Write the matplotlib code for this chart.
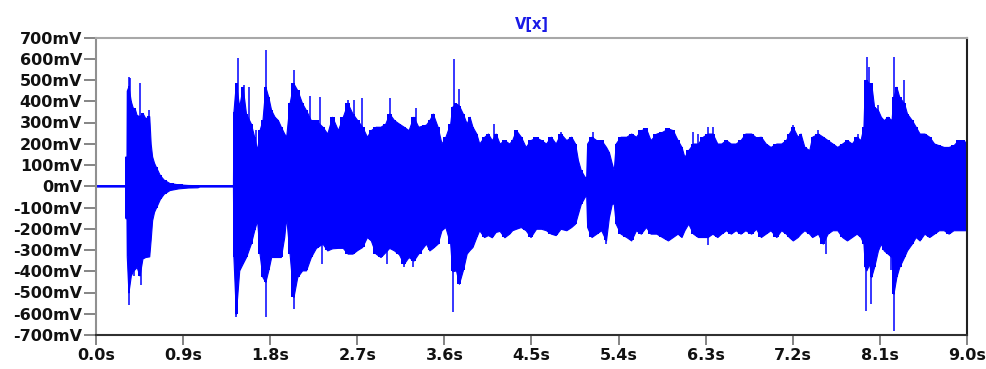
import matplotlib
matplotlib.use("Agg")
import matplotlib.pyplot as plt
from matplotlib.ticker import FixedLocator, FixedFormatter

# Envelope of V(x): time (s), upper and lower peak (mV)
t_s = [0.0, 0.300, 0.303, 0.315, 0.318, 0.335, 0.36, 0.38, 0.40, 0.42, 0.45, 0.48,
       0.51, 0.55, 0.565, 0.58, 0.60, 0.62, 0.66, 0.70, 0.76, 0.85, 0.95, 1.05, 1.07,
       1.415, 1.42, 1.445, 1.48, 1.515, 1.55, 1.60, 1.635, 1.665, 1.69, 1.72, 1.75,
       1.78, 1.81, 1.845, 1.88, 1.91, 1.945, 1.965, 2.00, 2.04, 2.08, 2.13, 2.17, 2.22,
       2.273, 2.34, 2.39, 2.44, 2.50, 2.55, 2.60, 2.65, 2.70, 2.75, 2.80, 2.84, 2.89,
       2.94, 2.99, 3.03, 3.08, 3.13, 3.18, 3.23, 3.28, 3.33, 3.41, 3.445, 3.48, 3.53,
       3.57, 3.61, 3.66, 3.68, 3.72, 3.75, 3.79, 3.83, 3.86, 3.89, 3.93, 3.96, 4.01,
       4.05, 4.09, 4.13, 4.17, 4.22, 4.27, 4.30, 4.34, 4.39, 4.44, 4.49, 4.547, 4.60,
       4.65, 4.70, 4.75, 4.80, 4.86, 4.91, 4.95, 4.98, 5.01, 5.05, 5.065, 5.075, 5.12,
       5.17, 5.22, 5.27, 5.30, 5.33, 5.35, 5.37, 5.42, 5.48, 5.53, 5.58, 5.63, 5.683,
       5.73, 5.79, 5.85, 5.91, 5.96, 6.01, 6.05, 6.08, 6.12, 6.17, 6.22, 6.27, 6.32,
       6.37, 6.42, 6.46, 6.51, 6.56, 6.61, 6.66, 6.71, 6.77, 6.82, 6.87, 6.92, 6.97,
       7.03, 7.08, 7.13, 7.16, 7.20, 7.25, 7.28, 7.32, 7.37, 7.40, 7.46, 7.51, 7.56,
       7.61, 7.66, 7.71, 7.76, 7.81, 7.86, 7.90, 7.93, 7.945, 7.96, 7.99, 8.01, 8.04,
       8.08, 8.11, 8.14, 8.18, 8.22, 8.24, 8.27, 8.30, 8.35, 8.38, 8.43, 8.47, 8.51,
       8.56, 8.61, 8.66, 8.71, 8.76, 8.81, 8.86, 8.91, 8.96, 9.0]
upper_mv = [0, 0, 140, 140, 450, 470, 400, 370, 366, 335, 330, 345,
            320, 330, 200, 140, 110, 90, 52, 31, 15, 9, 6, 5, 0,
            0, 350, 484, 374, 468, 342, 295, 232, 170, 264, 311, 468,
            421, 358, 327, 311, 280, 248, 233, 390, 484, 452, 390, 358, 311,
            310, 280, 248, 327, 264, 327, 390, 342, 311, 280, 233, 264, 280,
            280, 295, 342, 311, 295, 280, 264, 327, 280, 290, 311, 342, 280,
            201, 232, 295, 374, 390, 380, 342, 295, 327, 280, 248, 201, 232,
            248, 217, 248, 201, 217, 201, 217, 264, 233, 185, 217, 230, 217,
            201, 233, 201, 248, 217, 233, 201, 123, 75, 44, 44, 201, 233,
            217, 217, 185, 160, 107, 75, 201, 233, 233, 248, 233, 264, 272,
            217, 248, 256, 272, 264, 217, 185, 138, 170, 201, 201, 233, 248,
            248, 201, 201, 217, 201, 201, 217, 248, 248, 230, 233, 201, 185,
            201, 201, 217, 248, 278, 233, 248, 185, 170, 233, 248, 233, 217,
            201, 185, 201, 217, 201, 233, 217, 280, 500, 500, 484, 484, 374,
            358, 327, 311, 327, 311, 421, 468, 421, 390, 342, 311, 280, 248,
            248, 233, 201, 193, 185, 185, 193, 217, 217, 201]
lower_mv = [0, 0, -150, -152, -330, -500, -420, -400, -390, -380, -420, -340,
            -333, -330, -250, -160, -120, -100, -60, -35, -18, -10, -6, -5, 0,
            0, -333, -600, -396, -364, -333, -270, -207, -160, -317, -427, -450,
            -396, -333, -333, -333, -333, -239, -145, -317, -522, -427, -396, -396, -333,
            -290, -270, -302, -292, -290, -290, -317, -317, -300, -286, -239, -255, -317,
            -333, -310, -290, -302, -320, -365, -333, -350, -317, -270, -302, -290, -270,
            -207, -192, -270, -400, -396, -459, -396, -317, -300, -286, -239, -207, -239,
            -230, -240, -215, -210, -240, -223, -207, -200, -192, -207, -239, -200, -200,
            -207, -223, -230, -200, -207, -192, -176, -129, -82, -50, -40, -192, -239,
            -223, -207, -255, -145, -82, -82, -176, -223, -239, -255, -207, -223, -192,
            -223, -223, -239, -255, -239, -223, -239, -207, -176, -223, -239, -239, -239,
            -223, -239, -223, -207, -223, -207, -223, -207, -223, -200, -239, -223, -207,
            -239, -207, -223, -239, -255, -239, -223, -207, -223, -239, -223, -270, -223,
            -207, -207, -239, -255, -239, -223, -239, -270, -380, -396, -365, -427, -380,
            -302, -270, -302, -317, -333, -506, -427, -380, -333, -302, -270, -239, -255,
            -223, -239, -223, -207, -207, -223, -207, -207, -207, -207]

# Isolated peaks rising above the envelope: time (s), value (mV)
peak_hi_t = [0.344, 0.355, 0.455, 0.551, 1.467, 1.532, 1.584, 1.653, 1.757, 2.050,
             2.21, 2.314, 2.607, 2.669, 2.748, 3.038, 3.306, 3.699, 3.754, 4.116,
             4.805, 5.132, 5.666, 6.165, 6.217, 6.320, 6.372, 7.199, 7.457, 7.870,
             7.963, 7.984, 8.077, 8.249, 8.352]
peak_hi_mv = [515, 508, 484, 358, 602, 476, 468, 264, 641, 547,
              423, 421, 405, 405, 413, 413, 366, 597, 460, 292,
              256, 256, 272, 256, 248, 280, 280, 288, 264, 248,
              610, 563, 382, 610, 500]
peak_lo_t = [0.344, 0.396, 0.468, 1.450, 1.757, 2.050, 2.335, 3.003, 3.186, 3.272,
             3.692, 3.754, 5.270, 6.320, 7.543, 7.956, 8.008, 8.215, 8.249]
peak_lo_mv = [-561, -420, -467, -616, -616, -577, -364, -365, -380, -380,
              -592, -459, -270, -278, -317, -585, -553, -396, -679]

y_ticks_mv = list(range(-700, 701, 100))
y_tick_labels = [f"{v}mV" for v in y_ticks_mv]
x_ticks_s = [0.0, 0.9, 1.8, 2.7, 3.6, 4.5, 5.4, 6.3, 7.2, 8.1, 9.0]
x_tick_labels = [f"{v:.1f}s" for v in x_ticks_s]

trace = "#0000FF"

fig = plt.figure(figsize=(9.87, 3.69), dpi=100)
ax = fig.add_axes([96 / 987, 34 / 369, 871 / 987, 297.5 / 369])

ax.plot([0, 9], [0, 0], color=trace, lw=1.4, zorder=2)
# solid body of the oscillation plus stepped outline for the ragged edge
ax.fill_between(t_s, lower_mv, upper_mv, color=trace, lw=0.8,
                edgecolor=trace, zorder=3)
ax.fill_between(t_s, lower_mv, upper_mv, step="mid", color=trace, lw=0,
                zorder=3)
ax.vlines(peak_hi_t, 0, peak_hi_mv, color=trace, lw=1.1, zorder=3)
ax.vlines(peak_lo_t, peak_lo_mv, 0, color=trace, lw=1.1, zorder=3)

ax.set_xlim(0, 9)
ax.set_ylim(-700, 700)
ax.xaxis.set_major_locator(FixedLocator(x_ticks_s))
ax.xaxis.set_major_formatter(FixedFormatter(x_tick_labels))
ax.yaxis.set_major_locator(FixedLocator(y_ticks_mv))
ax.yaxis.set_major_formatter(FixedFormatter(y_tick_labels))

for lab in ax.get_xticklabels() + ax.get_yticklabels():
    lab.set_fontweight("bold")
    lab.set_fontsize(11.5)
    lab.set_color("#111111")
ax.tick_params(axis="y", length=9, width=1.2, color="#707070", pad=1)
ax.tick_params(axis="x", length=7, width=1.2, color="#707070", pad=2)

ax.spines["top"].set_color("#a8a8a8")
ax.spines["left"].set_color("#909090")
ax.spines["bottom"].set_color("#303030")
ax.spines["right"].set_color("#202020")
for sp in ax.spines.values():
    sp.set_linewidth(1.5)
    sp.set_zorder(5)

fig.text((96 + 871 / 2) / 987, 1 - 24 / 369, "V[x]", color="#1a1ae6",
         fontsize=10.5, fontweight="bold", ha="center", va="center")

fig.savefig("out.png", dpi=100)
